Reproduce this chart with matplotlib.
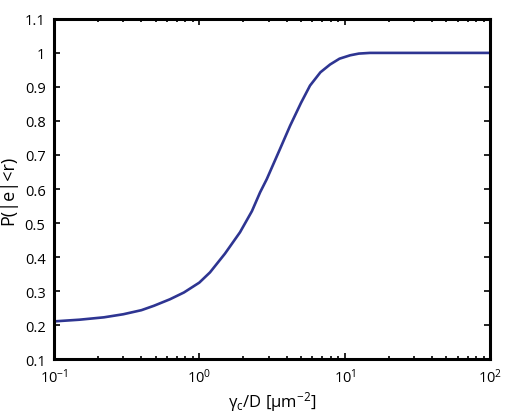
import matplotlib
matplotlib.use("Agg")
import matplotlib.pyplot as plt
from matplotlib.ticker import LogLocator

plt.rcParams['font.family'] = ['Open Sans', 'DejaVu Sans']
plt.rcParams['mathtext.fontset'] = 'custom'
plt.rcParams['mathtext.rm'] = 'Open Sans'
plt.rcParams['mathtext.it'] = 'Open Sans'

# Data
gamma_over_d = [0.1, 0.15, 0.221, 0.3, 0.4, 0.488, 0.628, 0.784, 1.0, 1.184, 1.5,
                1.905, 2.3, 2.616, 2.909, 3.59, 4.21, 5.0, 5.77, 6.8, 7.93,
                9.2, 10.9, 12.5, 14.9, 20, 40, 100]
prob = [0.211, 0.216, 0.223, 0.232, 0.244, 0.257, 0.276, 0.296, 0.325, 0.355, 0.410,
        0.473, 0.535, 0.590, 0.629, 0.718, 0.786, 0.853, 0.904, 0.943, 0.966,
        0.983, 0.993, 0.998, 1.0, 1.0, 1.0, 1.0]

fig = plt.figure(figsize=(5.08, 4.14), dpi=100)
ax = fig.add_axes([0.106, 0.130, 0.859, 0.822])

ax.plot(gamma_over_d, prob, color='#2e3592', linewidth=1.9)

ax.set_xscale('log')
ax.set_xlim(0.1, 100)
ax.set_ylim(0.1, 1.1)
ax.set_xticks([0.1, 1, 10, 100])
ax.set_xticklabels([r'$10^{-1}$', r'$10^{0}$', r'$10^{1}$', r'$10^{2}$'])
ax.xaxis.set_minor_locator(LogLocator(base=10, subs=range(2, 10)))
ax.set_yticks([0.1, 0.2, 0.3, 0.4, 0.5, 0.6, 0.7, 0.8, 0.9, 1.0, 1.1])
ax.set_yticklabels(['0.1', '0.2', '0.3', '0.4', '0.5', '0.6', '0.7', '0.8', '0.9', '1', '1.1'])

for s in ax.spines.values():
    s.set_linewidth(2.2)
ax.tick_params(which='both', direction='in', top=True, right=True, labelsize=10.5, width=1.2)
ax.tick_params(which='major', length=4, pad=6)
ax.tick_params(which='minor', length=2.5)

ax.set_xlabel('γ$_c$/D [μm$^{-2}$]', fontsize=12, labelpad=2)
ax.set_ylabel('P(|e|<r)', fontsize=13, labelpad=5)

fig.savefig('out.png', dpi=100)
